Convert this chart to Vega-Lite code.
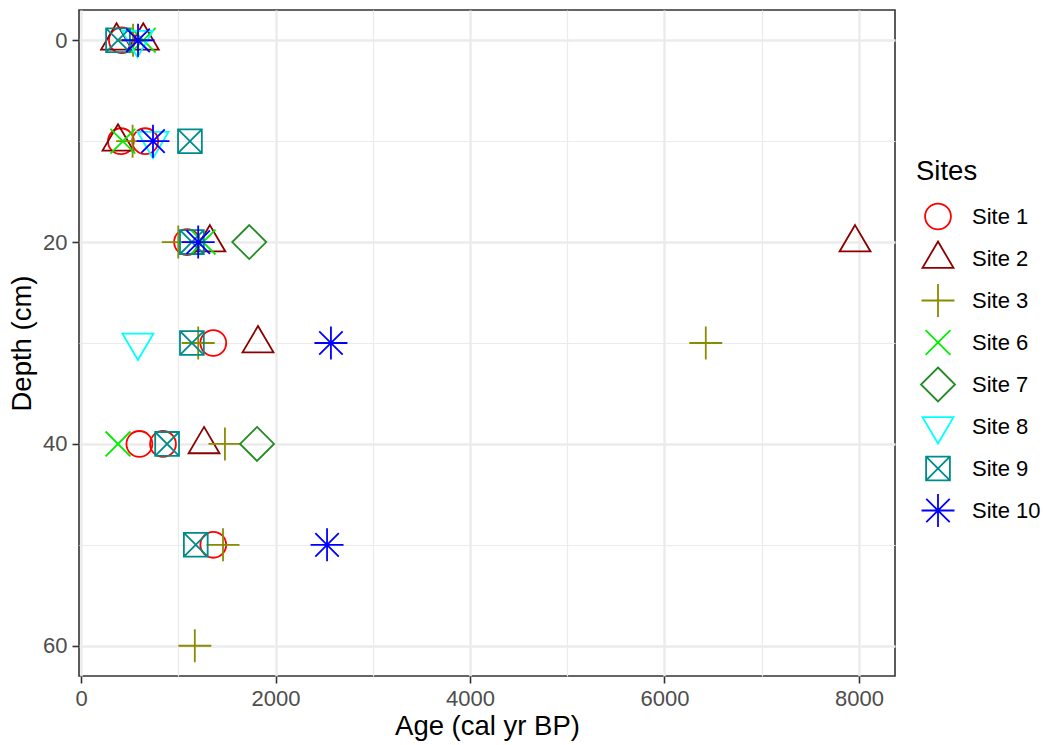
{
  "$schema": "https://vega.github.io/schema/vega-lite/v6.json",
  "autosize": {"type": "none"},
  "padding": {"left": 79, "top": 10, "right": 149, "bottom": 69},
  "width": 816,
  "height": 666,
  "background": "white",
  "config": {
    "font": "Liberation Sans",
    "view": {"stroke": "#333333", "strokeWidth": 1.6},
    "axis": {
      "domain": false,
      "tickColor": "#333333",
      "tickSize": 7,
      "tickWidth": 1.6,
      "labelPadding": 5,
      "labelColor": "#4D4D4D",
      "labelFontSize": 22,
      "titleFontSize": 27.5,
      "titleFontWeight": "normal",
      "titleColor": "#000000",
      "gridColor": "#EBEBEB"
    }
  },
  "data": {
    "values": [
      {"site": "Site 1", "age": 420, "depth": 0},
      {"site": "Site 1", "age": 410, "depth": 10},
      {"site": "Site 1", "age": 660, "depth": 10},
      {"site": "Site 1", "age": 1090, "depth": 20},
      {"site": "Site 1", "age": 1360, "depth": 30},
      {"site": "Site 1", "age": 600, "depth": 40},
      {"site": "Site 1", "age": 843, "depth": 40},
      {"site": "Site 1", "age": 1360, "depth": 50},
      {"site": "Site 2", "age": 365, "depth": 0},
      {"site": "Site 2", "age": 640, "depth": 0},
      {"site": "Site 2", "age": 380, "depth": 10},
      {"site": "Site 2", "age": 1325, "depth": 20},
      {"site": "Site 2", "age": 7960, "depth": 20},
      {"site": "Site 2", "age": 1820, "depth": 30},
      {"site": "Site 2", "age": 1265, "depth": 40},
      {"site": "Site 3", "age": 535, "depth": 0},
      {"site": "Site 3", "age": 530, "depth": 10},
      {"site": "Site 3", "age": 1000, "depth": 20},
      {"site": "Site 3", "age": 1205, "depth": 30},
      {"site": "Site 3", "age": 6425, "depth": 30},
      {"site": "Site 3", "age": 1480, "depth": 40},
      {"site": "Site 3", "age": 1460, "depth": 50},
      {"site": "Site 3", "age": 1170, "depth": 60},
      {"site": "Site 6", "age": 640, "depth": 0},
      {"site": "Site 6", "age": 430, "depth": 10},
      {"site": "Site 6", "age": 1255, "depth": 20},
      {"site": "Site 6", "age": 380, "depth": 40},
      {"site": "Site 7", "age": 1730, "depth": 20},
      {"site": "Site 7", "age": 1810, "depth": 40},
      {"site": "Site 8", "age": 580, "depth": 0},
      {"site": "Site 8", "age": 740, "depth": 10},
      {"site": "Site 8", "age": 585, "depth": 30},
      {"site": "Site 9", "age": 380, "depth": 0},
      {"site": "Site 9", "age": 1120, "depth": 10},
      {"site": "Site 9", "age": 1140, "depth": 20},
      {"site": "Site 9", "age": 1140, "depth": 30},
      {"site": "Site 9", "age": 885, "depth": 40},
      {"site": "Site 9", "age": 1180, "depth": 50},
      {"site": "Site 10", "age": 586, "depth": 0},
      {"site": "Site 10", "age": 740, "depth": 10},
      {"site": "Site 10", "age": 1205, "depth": 20},
      {"site": "Site 10", "age": 2570, "depth": 30},
      {"site": "Site 10", "age": 2530, "depth": 50}
    ]
  },
  "mark": {"type": "point", "filled": false, "size": 1156, "strokeWidth": 1.8, "opacity": 1},
  "encoding": {
    "x": {
      "field": "age",
      "type": "quantitative",
      "title": "Age (cal yr BP)",
      "scale": {"domain": [-21, 8371], "nice": false, "zero": false},
      "axis": {
        "values": [0, 1000, 2000, 3000, 4000, 5000, 6000, 7000, 8000],
        "format": "d",
        "labelExpr": "datum.value % 2000 === 0 ? datum.label : ''",
        "tickOpacity": {"condition": {"test": "datum.value % 2000 === 0", "value": 1}, "value": 0},
        "gridWidth": {"condition": {"test": "datum.value % 2000 === 0", "value": 2.4}, "value": 1.2},
        "titlePadding": 3
      }
    },
    "y": {
      "field": "depth",
      "type": "quantitative",
      "title": "Depth (cm)",
      "scale": {"domain": [-3, 63], "nice": false, "zero": false, "reverse": true},
      "axis": {
        "values": [0, 10, 20, 30, 40, 50, 60],
        "labelExpr": "datum.value % 20 === 0 ? datum.label : ''",
        "tickOpacity": {"condition": {"test": "datum.value % 20 === 0", "value": 1}, "value": 0},
        "gridWidth": {"condition": {"test": "datum.value % 20 === 0", "value": 2.4}, "value": 1.2},
        "titlePadding": 6
      }
    },
    "color": {
      "field": "site",
      "type": "nominal",
      "title": "Sites",
      "scale": {
        "domain": ["Site 1", "Site 2", "Site 3", "Site 6", "Site 7", "Site 8", "Site 9", "Site 10"],
        "range": ["#FF0000", "#8B0000", "#8B8B00", "#00EE00", "#228B22", "#00FFFF", "#008B8B", "#0000FF"]
      },
      "legend": {
        "orient": "none",
        "legendX": 837,
        "legendY": 148,
        "titleFontSize": 27.5,
        "titleFontWeight": "normal",
        "titleColor": "#000000",
        "titlePadding": 13,
        "labelFontSize": 22,
        "labelColor": "#000000",
        "labelOffset": 16,
        "symbolSize": 1156,
        "symbolStrokeWidth": 1.8,
        "symbolOffset": 4,
        "rowPadding": 0,
        "gridAlign": "all"
      }
    },
    "shape": {
      "field": "site",
      "type": "nominal",
      "title": "Sites",
      "scale": {
        "domain": ["Site 1", "Site 2", "Site 3", "Site 6", "Site 7", "Site 8", "Site 9", "Site 10"],
        "range": [
          "M0.76,0A0.76,0.76,0,1,1,-0.76,0A0.76,0.76,0,1,1,0.76,0Z",
          "M0,-1L0.91,0.55L-0.91,0.55Z",
          "M-0.97,0H0.97M0,-0.97V0.97",
          "M-0.73,-0.73L0.73,0.73M-0.73,0.73L0.73,-0.73",
          "M0,-1L1,0L0,1L-1,0Z",
          "M0,1L0.91,-0.55L-0.91,-0.55Z",
          "M-0.7,-0.7H0.7V0.7H-0.7ZM-0.7,-0.7L0.7,0.7M-0.7,0.7L0.7,-0.7",
          "M-0.97,0H0.97M0,-0.97V0.97M-0.69,-0.69L0.69,0.69M-0.69,0.69L0.69,-0.69"
        ]
      }
    }
  }
}
